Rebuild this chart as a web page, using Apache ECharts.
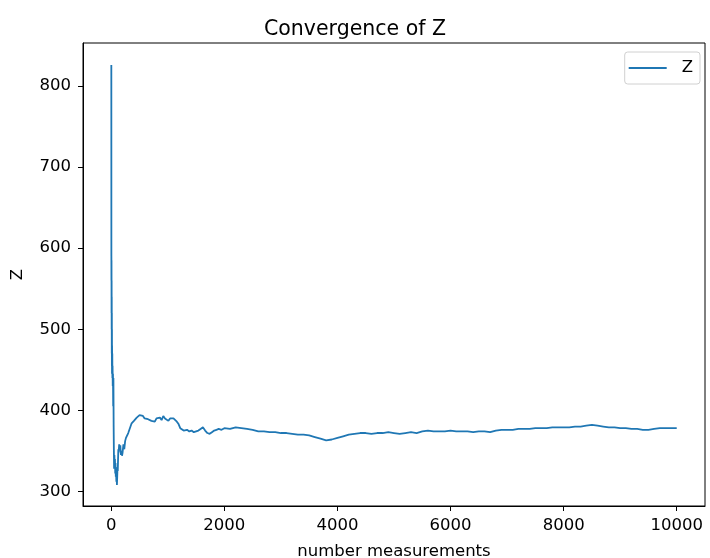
<!DOCTYPE html>
<html>
<head>
<meta charset="utf-8">
<script src="https://cdn.jsdelivr.net/npm/echarts@6/dist/echarts.min.js"></script>
<style>html,body{margin:0;padding:0;background:#fff}#c{width:710px;height:558px}</style>
</head>
<body>
<div id="c"></div>
<script>
const seriesName = 'Z';
const xs = [1,2,3,4,5,6,7,8,9,10,11,12,13,14,16,18,20,23,26,30,34,38,42,46,50,55,60,65,70,75,80,85,90,95,100,105,110,115,120,125,130,140,150,160,170,180,190,200,215,230,245,260,280,300,320,340,360,380,400,425,450,475,500,530,560,590,620,650,680,710,740,770,800,830,860,890,920,950,980,1010,1040,1070,1100,1130,1160,1190,1220,1250,1280,1310,1340,1380,1420,1460,1500,1540,1580,1620,1660,1700,1740,1780,1820,1860,1900,1950,2000,2100,2200,2300,2400,2500,2600,2700,2800,2900,3000,3100,3200,3300,3400,3500,3600,3700,3800,3900,4000,4100,4200,4300,4400,4500,4600,4700,4800,4900,5000,5100,5200,5300,5400,5500,5600,5700,5800,5900,6000,6100,6200,6300,6400,6500,6600,6700,6800,6900,7000,7100,7200,7300,7400,7500,7600,7700,7800,7900,8000,8100,8200,8300,8400,8500,8600,8700,8800,8900,9000,9100,9200,9300,9400,9500,9600,9700,9800,9900,10000];
const zs = [826,590,560,585,520,560,500,540,470,520,455,500,445,480,450,470,440,455,430,445,405,440,380,350,328,345,332,340,322,335,318,326,312,320,308,318,330,325,340,352,348,358,352,357,345,350,344,348,358,352,362,366,364,372,376,380,384,383,387,389,391,390,394,392,393,390,392,389,391,387,389,386,390,388,391,388,393,390,389,387,390,388,390,389,386,383,378,376,375,374,376,374,375,373,374,375,377,379,375,372,371,373,375,376,377,376,378,377,379,378,377,376,374,374,373,373,372,372,371,370,370,369,367,365,363,364,366,368,370,371,372,372,371,372,372,373,372,371,372,373,372,374,375,374,374,374,375,374,374,374,373,374,374,373,375,376,376,376,377,377,377,378,378,378,379,379,379,379,380,380,381,382,381,380,379,379,378,378,377,377,376,376,377,378,378,378,378];
const xTicks = [0,2000,4000,6000,8000,10000];
const yTicks = [300,400,500,600,700,800];

const chart = echarts.init(document.getElementById('c'), null, {renderer:'canvas'});
const font = 'DejaVu Sans';
const fs = 16.5;
chart.setOption({
  animation: false,
  backgroundColor: '#fff',
  title: {text: 'Convergence of Z', left: 'center', top: 14,
    textStyle: {fontFamily: font, fontSize: 20.5, fontWeight: 'normal', color: '#000'}},
  grid: {left: 83, right: 5, top: 43, bottom: 52, show: true, borderColor: '#000', borderWidth: 1, containLabel: false, outerBoundsMode: 'none'},
  legend: {
    right: 10, top: 52, orient: 'vertical',
    data: [{name: seriesName}],
    icon: 'path://M0,0 L40,0 L40,2 L0,2 Z',
    itemWidth: 38, itemHeight: 2, itemGap: 5,
    borderColor: '#d0d0d0', borderWidth: 1, borderRadius: 3,
    padding: [7, 7, 7, 4],
    textStyle: {fontFamily: font, fontSize: fs, color: '#000', lineHeight: 18, padding: [0,0,0,10]}
  },
  xAxis: {
    type: 'value', min: -500, max: 10500,
    name: 'number measurements', nameLocation: 'middle', nameGap: 37,
    nameTextStyle: {fontFamily: font, fontSize: fs, color: '#000'},
    axisLine: {show: true, onZero: false, lineStyle: {color: '#000', width: 1}},
    axisTick: {show: true, length: 5, lineStyle: {color: '#000'}, customValues: xTicks},
    axisLabel: {fontFamily: font, fontSize: fs, color: '#000', margin: 11, customValues: xTicks, formatter: v => String(v)},
    splitLine: {show: false}
  },
  yAxis: {
    type: 'value', min: 282, max: 853,
    name: 'Z', nameLocation: 'middle', nameGap: 57, nameRotate: 90,
    nameTextStyle: {fontFamily: font, fontSize: fs, color: '#000'},
    axisLine: {show: true, onZero: false, lineStyle: {color: '#000', width: 1}},
    axisTick: {show: true, length: 5, lineStyle: {color: '#000'}, customValues: yTicks},
    axisLabel: {fontFamily: font, fontSize: fs, color: '#000', margin: 12, customValues: yTicks, formatter: v => String(v)},
    splitLine: {show: false}
  },
  series: [{
    name: seriesName, type: 'line', symbol: 'none',
    data: xs.map((x, i) => [x, zs[i]]),
    lineStyle: {color: '#1f77b4', width: 1.8},
    itemStyle: {color: '#1f77b4'}
  }]
});
</script>
</body>
</html>
